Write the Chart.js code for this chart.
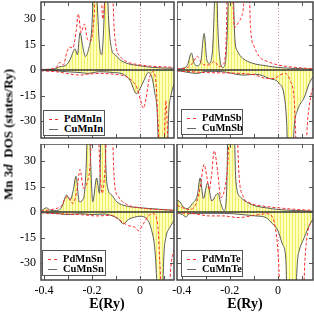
<!DOCTYPE html>
<html><head><meta charset="utf-8">
<script src="https://cdn.jsdelivr.net/npm/chart.js@4"></script>
<style>
html,body{margin:0;padding:0;background:#fff;width:314px;height:313px;overflow:hidden}
#wrap{position:relative;width:314px;height:313px;font-family:"Liberation Serif","DejaVu Serif",serif;color:#000}
canvas{position:absolute}
.leg{position:absolute;background:#fff;border:1px solid #555;font-weight:bold;font-size:10.5px;box-sizing:border-box;padding-top:3px}
.leg div{position:relative;height:10px;line-height:10px;padding-left:20px;white-space:nowrap}
.leg span{position:absolute;left:5px;top:5px;width:9px;border-top:1px solid #666}
.leg span.d{border-top:1px dashed #ff3030}
.xt{position:absolute;font-weight:bold;font-size:14px;width:80px;text-align:center;line-height:14px}
#yt{position:absolute;font-weight:bold;font-size:13px;white-space:nowrap;line-height:13px;width:160px;text-align:center;left:-72px;top:128px;transform:rotate(-90deg)}
</style></head><body>
<div id="wrap">
<canvas id="c1" width="175" height="139" style="left:0;top:0;width:175px;height:139px"></canvas>
<canvas id="c2" width="137" height="139" style="left:177px;top:0;width:137px;height:139px"></canvas>
<canvas id="c3" width="175" height="169" style="left:0;top:144px;width:175px;height:169px"></canvas>
<canvas id="c4" width="154" height="169" style="left:160px;top:144px;width:154px;height:169px"></canvas>
<div id="yt">Mn 3<i>d</i>&nbsp; DOS (states/Ry)</div>
<div class="xt" style="left:67px;top:297px">E(Ry)</div>
<div class="xt" style="left:205px;top:297px">E(Ry)</div>
<div class="leg" style="left:43px;top:110px;width:62px;height:26px"><div><span class="d"></span>PdMnIn</div><div><span></span>CuMnIn</div></div>
<div class="leg" style="left:181px;top:109px;width:62px;height:26px"><div><span class="d"></span>PdMnSb</div><div><span></span>CuMnSb</div></div>
<div class="leg" style="left:42px;top:250px;width:64px;height:26px"><div><span class="d"></span>PdMnSn</div><div><span></span>CuMnSn</div></div>
<div class="leg" style="left:181px;top:250px;width:62px;height:27px"><div><span class="d"></span>PdMnTe</div><div><span></span>CuMnTe</div></div>
</div>
<script>
// ---- axis ranges / ticks ----
const xRangeLeft = [-0.413, 0.142];
const xRangeRight = [-0.42, 0.146];
const yRange = [-40, 40];
const yTickVals = [-30, -15, 0, 15, 30];
const xLabelTicks = [-0.4, -0.2, 0];
const xMinorTicks = [-0.4, -0.3, -0.2, -0.1, 0, 0.1];

// ---- PdMnIn / CuMnIn ----
const cuInUpE = [-0.413,-0.36,-0.333,-0.3125,-0.292,-0.278,-0.271,-0.261,-0.25,-0.239,-0.228,-0.215,-0.201,-0.19,-0.181,-0.169,-0.16,-0.15,-0.142,-0.131,-0.118,-0.104,-0.083,-0.056,0,0.056,0.142];
const cuInUpV = [0.3,0.5,2,2.5,6,11,12.5,9,22,14,8,12,25,60,45,15,9,30,70,30,12,9,6,4,2.5,1.5,1];
const pdInUpE = [-0.413,-0.354,-0.333,-0.319,-0.306,-0.294,-0.281,-0.267,-0.257,-0.246,-0.232,-0.219,-0.206,-0.192,-0.181,-0.167,-0.155,-0.136,-0.118,-0.108,-0.097,-0.083,-0.056,0,0.142];
const pdInUpV = [0.3,1,4.5,3,10,13.5,13,22,33,22,27,18,17,30,60,60,30,60,60,25,12,8,5,3,1.5];
const cuInDnE = [-0.413,-0.35,-0.306,-0.25,-0.219,-0.167,-0.111,-0.069,-0.042,-0.014,0,0.017,0.035,0.049,0.0625,0.072,0.08,0.096,0.112,0.12,0.128,0.142];
const cuInDnV = [-0.3,-0.5,-1,-1.5,-2,-1,-1.5,-2.5,-6,-14,-11,-6,-1.5,-4,-14,-25,-60,-70,-60,-25,-16,-8];
const pdInDnE = [-0.413,-0.35,-0.306,-0.25,-0.22,-0.167,-0.11,-0.056,-0.028,-0.014,0.003,0.014,0.025,0.039,0.053,0.067,0.075,0.088,0.1,0.108,0.118,0.142];
const pdInDnV = [-0.5,-1,-2,-3,-2.5,-2,-2.5,-4,-7,-10,-18,-22.5,-17,-5,-1,-8,-30,-60,-45,-18,-45,-60];

// ---- PdMnSb / CuMnSb ----
const cuSbUpE = [-0.42,-0.397,-0.376,-0.36,-0.349,-0.335,-0.321,-0.307,-0.296,-0.286,-0.272,-0.264,-0.258,-0.25,-0.24,-0.23,-0.219,-0.21,-0.2,-0.189,-0.179,-0.168,-0.147,-0.106,-0.05,0,0.146];
const cuSbUpV = [0.5,1,3,10,4,2.5,5,21.5,6,4,12,40,70,25,5,1.5,4,25,70,60,18,11,7,4,2.5,1.5,0.5];
const pdSbUpE = [-0.42,-0.376,-0.356,-0.335,-0.321,-0.307,-0.286,-0.265,-0.244,-0.23,-0.217,-0.206,-0.192,-0.181,-0.164,-0.153,-0.143,-0.133,-0.122,-0.114,-0.099,-0.078,-0.043,0,0.075,0.146];
const pdSbUpV = [0.5,1.5,4,8,5,3,3,5,2,3,12,70,60,25,28,31,38,70,60,25,14,8,5,3,1.5,0.8];
const cuSbDnE = [-0.42,-0.335,-0.3,-0.23,-0.144,-0.092,-0.036,0.006,0.026,0.036,0.044,0.058,0.068,0.082,0.11,0.13,0.146];
const cuSbDnV = [-0.3,-2,-0.8,-1,-3,-2.5,-5,-8,-15,-30,-60,-60,-33,-23.5,-16,-8,-4];
const pdSbDnE = [-0.42,-0.3,-0.161,-0.092,-0.05,-0.015,0.008,0.031,0.05,0.068,0.082,0.11,0.124,0.1375,0.146];
const pdSbDnV = [-0.5,-1.5,-2,-3,-5,-5,-3,-2,-6,-18,-60,-60,-29,-15,-10];

// ---- PdMnSn / CuMnSn ----
const cuSnUpE = [-0.413,-0.389,-0.375,-0.347,-0.326,-0.306,-0.292,-0.278,-0.267,-0.253,-0.236,-0.225,-0.215,-0.206,-0.197,-0.181,-0.169,-0.16,-0.15,-0.139,-0.118,-0.097,-0.056,0,0.142];
const cuSnUpV = [0.5,2.5,1,0.8,3,10,7,13,21,6,8,25,70,30,6,20,11,70,60,18,10,6,3.5,2.5,1];
const pdSnUpE = [-0.413,-0.368,-0.34,-0.326,-0.3125,-0.299,-0.281,-0.264,-0.25,-0.236,-0.219,-0.208,-0.197,-0.178,-0.167,-0.158,-0.146,-0.132,-0.118,-0.107,-0.09,-0.056,0,0.142];
const pdSnUpV = [0.5,1.5,2.5,4,8,9,5,12,25,14,18,28,60,60,25,11,25,70,60,18,9,4.5,2.5,1];
const cuSnDnE = [-0.413,-0.35,-0.3,-0.25,-0.2,-0.15,-0.111,-0.09,-0.069,-0.049,-0.021,0,0.028,0.049,0.0625,0.072,0.083,0.092,0.1,0.108,0.125,0.142];
const cuSnDnV = [-0.3,-0.8,-1.5,-1,-1.5,-1.2,-2.5,-4,-7,-4.5,-3,-2.5,-4,-11,-22.6,-45,-70,-60,-25,-15,-9,-5];
const pdSnDnE = [-0.413,-0.35,-0.25,-0.181,-0.12,-0.083,-0.049,-0.021,-0.007,0.014,0.035,0.056,0.075,0.083,0.096,0.117,0.129,0.142];
const pdSnDnV = [-0.5,-1,-1.5,-2.3,-2,-5,-8,-9,-11,-7,-2.3,-1,-9,-30,-60,-60,-32,-22];

// ---- PdMnTe / CuMnTe ----
const cuTeUpE = [-0.42,-0.408,-0.394,-0.376,-0.356,-0.335,-0.324,-0.31,-0.293,-0.275,-0.258,-0.249,-0.2375,-0.224,-0.214,-0.206,-0.186,-0.175,-0.154,-0.126,-0.092,-0.05,0,0.146];
const cuTeUpV = [7,6,3,2,5,10,20,8,17,6.5,10,11,5,0.8,10,60,70,18,8.5,5.5,3.5,2.5,1.5,0.5];
const pdTeUpE = [-0.42,-0.397,-0.369,-0.342,-0.324,-0.307,-0.296,-0.286,-0.276,-0.265,-0.251,-0.2375,-0.224,-0.21,-0.196,-0.175,-0.161,-0.144,-0.119,-0.064,0,0.075,0.146];
const pdTeUpV = [4,2.5,1.5,4.5,14,28,21,13,22,36,24,8.5,12,26,60,60,20,9,5.5,3.5,2.5,1.5,1];
const cuTeDnE = [-0.42,-0.397,-0.383,-0.369,-0.3,-0.22,-0.15,-0.092,-0.05,-0.022,0,0.019,0.033,0.04,0.068,0.082,0.089,0.11,0.13,0.146];
const cuTeDnV = [-0.5,-1.5,-3,-1,-0.8,-0.8,-1.5,-2.3,-3.3,-7,-11,-19,-28,-60,-60,-28,-22.6,-15,-8,-4];
const pdTeDnE = [-0.42,-0.35,-0.286,-0.23,-0.161,-0.119,-0.078,-0.043,-0.022,-0.011,-0.003,0.003,0.0125,0.103,0.1125,0.124,0.146];
const pdTeDnV = [-0.5,-1,-2.3,-2.3,-3.3,-2.5,-1.5,-1,-3.3,-9,-18,-30,-60,-60,-28,-12,-5];

const FONT = 'Liberation Serif';

function pts(E, V) { return E.map((e, i) => ({ x: e, y: V[i] })); }

function makePattern(canvas) {
  const pc = document.createElement('canvas');
  pc.width = 3; pc.height = 1;
  const p = pc.getContext('2d');
  p.fillStyle = '#ffffbe'; p.fillRect(0, 0, 3, 1);
  p.fillStyle = '#f2ee62'; p.fillRect(0, 0, 1, 1);
  return canvas.getContext('2d').createPattern(pc, 'repeat');
}

const panelDeco = {
  id: 'panelDeco',
  beforeDatasetsDraw(chart) {
    const { ctx, chartArea: a, scales: { x } } = chart;
    ctx.save();
    const x0 = Math.round(x.getPixelForValue(0)) + 0.5;
    ctx.strokeStyle = '#e79a9a'; ctx.lineWidth = 1; ctx.setLineDash([1, 2]);
    ctx.beginPath(); ctx.moveTo(x0, a.top); ctx.lineTo(x0, a.bottom); ctx.stroke();
    ctx.restore();
  },
  afterDatasetsDraw(chart) {
    const { ctx, chartArea: a, scales: { x, y } } = chart;
    ctx.save();
    const y0 = y.getPixelForValue(0);
    ctx.strokeStyle = '#333'; ctx.lineWidth = 1.3;
    ctx.beginPath(); ctx.moveTo(a.left, y0); ctx.lineTo(a.right, y0); ctx.stroke();
    ctx.strokeStyle = '#555'; ctx.lineWidth = 1;
    ctx.beginPath();
    for (const v of xMinorTicks) {
      const px = Math.round(x.getPixelForValue(v)) + 0.5;
      if (px < a.left || px > a.right) continue;
      ctx.moveTo(px, a.top); ctx.lineTo(px, a.top + 4);
      ctx.moveTo(px, a.bottom); ctx.lineTo(px, a.bottom - 4);
    }
    for (const v of yTickVals) {
      const py = Math.round(y.getPixelForValue(v)) + 0.5;
      ctx.moveTo(a.left, py); ctx.lineTo(a.left + 4, py);
      ctx.moveTo(a.right, py); ctx.lineTo(a.right - 4, py);
    }
    ctx.stroke();
    ctx.lineWidth = 1.5; ctx.strokeStyle = '#454545';
    ctx.strokeRect(a.left, a.top, a.right - a.left, a.bottom - a.top);
    ctx.restore();
  }
};

function makePanel(id, xr, series, showX, showY, padding) {
  const canvas = document.getElementById(id);
  const pat = makePattern(canvas);
  const datasets = [];
  for (const s of series) {
    if (s.kind === 'cu') {
      datasets.push({ data: pts(s.E, s.V), borderColor: '#5a5a5a', borderWidth: 1, fill: 'origin',
        backgroundColor: pat, pointRadius: 0, cubicInterpolationMode: 'monotone', order: 2 });
    } else {
      datasets.push({ data: pts(s.E, s.V), borderColor: '#ff2b2b', borderWidth: 1, borderDash: [3, 2],
        fill: false, pointRadius: 0, cubicInterpolationMode: 'monotone', order: 1 });
    }
  }
  return new Chart(canvas, {
    type: 'line',
    data: { datasets },
    options: {
      responsive: false, animation: false, events: [],
      layout: { padding },
      plugins: { legend: { display: false }, tooltip: { enabled: false } },
      scales: {
        x: {
          type: 'linear', min: xr[0], max: xr[1], display: showX, position: 'bottom',
          grid: { display: false, drawTicks: false }, border: { display: false },
          afterBuildTicks: s => { s.ticks = xLabelTicks.map(v => ({ value: v })); },
          afterFit: s => { if (showX) { s.height = 33; } s.paddingLeft = 0; s.paddingRight = 0; },
          ticks: { font: { family: FONT, size: 12 }, color: '#000', padding: 4, maxRotation: 0, autoSkip: false, callback: v => String(v) }
        },
        y: {
          type: 'linear', min: yRange[0], max: yRange[1], display: showY, position: 'left',
          grid: { display: false, drawTicks: false }, border: { display: false },
          afterBuildTicks: s => { s.ticks = yTickVals.map(v => ({ value: v })); },
          afterFit: s => { if (showY) { s.width = 41; } s.paddingTop = 0; s.paddingBottom = 0; },
          ticks: { font: { family: FONT, size: 12 }, color: '#000', padding: 5, autoSkip: false, callback: v => String(v) }
        }
      }
    },
    plugins: [panelDeco]
  });
}

makePanel('c1', xRangeLeft, [
  { kind: 'cu', E: cuInUpE, V: cuInUpV }, { kind: 'cu', E: cuInDnE, V: cuInDnV },
  { kind: 'pd', E: pdInUpE, V: pdInUpV }, { kind: 'pd', E: pdInDnE, V: pdInDnV }
], false, true, { top: 2, right: 1, bottom: 1, left: 0 });

makePanel('c2', xRangeRight, [
  { kind: 'cu', E: cuSbUpE, V: cuSbUpV }, { kind: 'cu', E: cuSbDnE, V: cuSbDnV },
  { kind: 'pd', E: pdSbUpE, V: pdSbUpV }, { kind: 'pd', E: pdSbDnE, V: pdSbDnV }
], false, false, { top: 2, right: 1, bottom: 1, left: 0 });

makePanel('c3', xRangeLeft, [
  { kind: 'cu', E: cuSnUpE, V: cuSnUpV }, { kind: 'cu', E: cuSnDnE, V: cuSnDnV },
  { kind: 'pd', E: pdSnUpE, V: pdSnUpV }, { kind: 'pd', E: pdSnDnE, V: pdSnDnV }
], true, true, { top: 0, right: 1, bottom: 0, left: 0 });

makePanel('c4', xRangeRight, [
  { kind: 'cu', E: cuTeUpE, V: cuTeUpV }, { kind: 'cu', E: cuTeDnE, V: cuTeDnV },
  { kind: 'pd', E: pdTeUpE, V: pdTeUpV }, { kind: 'pd', E: pdTeDnE, V: pdTeDnV }
], true, false, { top: 0, right: 1, bottom: 0, left: 17 });
</script>
</body></html>
